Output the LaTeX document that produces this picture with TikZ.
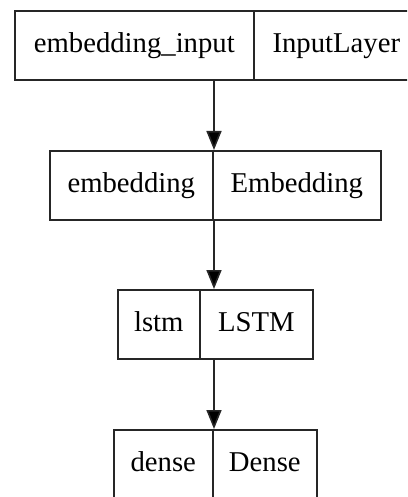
\documentclass[tikz,border=0pt]{standalone}
\usepackage{fontspec}
\setmainfont{Liberation Serif}
\usetikzlibrary{arrows.meta}
\begin{document}
\begin{tikzpicture}[x=1pt,y=1pt,
  cell/.style={draw=black!85, line width=1.6pt, minimum height=69pt, inner sep=0pt, anchor=north west,
    font=\fontsize{28.7}{34}\selectfont, text height=20pt, text depth=6pt},
  arr/.style={draw=black!85, line width=1.6pt, -{Triangle[width=15pt,length=19pt,fill=black]}}]
\useasboundingbox (0,0) rectangle (407,-497);
\fill[white] (0,0) rectangle (407,-497);
\begin{scope}
\clip (0,0) rectangle (407,-497);
% row 1
\node[cell, minimum width=239pt] (n1) at (14,-10) {embedding\_input};
\node[cell, minimum width=165pt] (t1) at (253,-10) {InputLayer};
% row 2
\node[cell, minimum width=163pt] (n2) at (49,-150) {embedding};
\node[cell, minimum width=168pt] (t2) at (212,-150) {Embedding};
% row 3
\node[cell, minimum width=82pt] (n3) at (117,-289) {lstm};
\node[cell, minimum width=113pt] (t3) at (199,-289) {LSTM};
% row 4
\node[cell, minimum width=99pt] (n4) at (113,-429) {dense};
\node[cell, minimum width=104pt] (t4) at (212,-429) {Dense};
\coordinate (ax) at (214,0);
\draw[arr] (ax |- n1.south) -- (ax |- n2.north);
\draw[arr] (ax |- n2.south) -- (ax |- n3.north);
\draw[arr] (ax |- n3.south) -- (ax |- n4.north);
\end{scope}
\end{tikzpicture}
\end{document}
